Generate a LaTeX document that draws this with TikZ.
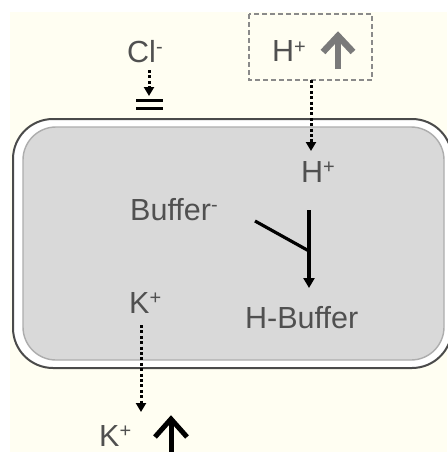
\documentclass[tikz,border=0pt]{standalone}
\usepackage{fontspec}
\setmainfont{Liberation Sans}
\usetikzlibrary{arrows.meta}
\definecolor{cream}{HTML}{FFFEF2}
\definecolor{txt}{HTML}{505050}
\definecolor{cellfill}{HTML}{D9D9D9}
\definecolor{cellline}{HTML}{ADADAD}
\definecolor{memline}{HTML}{4A4A4A}
\definecolor{boxline}{HTML}{8A8A8A}
\definecolor{grayarrow}{HTML}{7A7A7A}
\newcommand\supp[1]{\raisebox{9pt}{\fontsize{20}{20}\selectfont #1}}
\begin{document}
\begin{tikzpicture}[x=1pt,y=-1pt,
  lbl/.style={anchor=base west,inner sep=0pt,text=txt,font=\fontsize{30.5}{31}\selectfont},
  dotarrow/.style={line width=3pt,dash pattern=on 3pt off 2.4pt,-{Triangle[length=9pt,width=10pt]}},
  reac/.style={line width=3.2pt,black},
  uparrow/.style={line cap=butt,line join=miter}
]
\useasboundingbox (0,0) rectangle (447,452);
\fill[white] (0,0) rectangle (447,452);
\fill[cream] (10,12) rectangle (447,452);
% cell
\draw[memline,line width=2pt,fill=white] (13,119) [rounded corners=40pt] -- (452,119) -- (452,368) -- (13,368) -- cycle;
\draw[cellline,line width=1.4pt,fill=cellfill,rounded corners=33pt] (23,127) rectangle (444,360);
% dashed box
\draw[boxline,line width=2pt,dash pattern=on 5pt off 3pt] (249,14) rectangle (372,80);
% labels
\node[lbl] (cl) at (127,63) {Cl\supp{-}};
\node[lbl] (hout) at (272,62) {H\supp{+}};
\node[lbl] (hin) at (301,182) {H\supp{+}};
\node[lbl] (buf) at (130,220) {Buffer\supp{-}};
\node[lbl] (kin) at (129,313) {K\supp{+}};
\node[lbl] (hbuf) at (245,328) {H-Buffer};
\node[lbl] (kout) at (99,446) {K\supp{+}};
% channel symbol
\coordinate (eq) at (149,96);
\draw[line width=3pt] (136,100) -- (163,100) (136,108) -- (163,108);
% coordinates
\coordinate (cls) at (149,70);
\coordinate (boxb) at (311,80);
\coordinate (htip) at (311,151);
\coordinate (ks) at (141,325);
\coordinate (kt) at (141,412);
\coordinate (rstart) at (255,221);
\coordinate (rjoin) at (309,251);
\coordinate (rtop) at (309,210);
\coordinate (rtip) at (309,288);
% dotted arrows
\draw[dotarrow] (cls) -- (eq);
\draw[dotarrow] (boxb) -- (htip);
\draw[dotarrow] (ks) -- (kt);
% reaction
\draw[reac] (rstart) -- (rjoin);
\draw[reac,-{Triangle[length=10pt,width=11pt]}] (rtop) -- (rtip);
% up arrows
\draw[grayarrow,line width=6.5pt,uparrow] (338,69) -- (338,36);
\draw[grayarrow,line width=6.5pt,uparrow] (323,52) -- (338,36) -- (353,52);
\draw[black,line width=5pt,uparrow] (171,452) -- (171,419);
\draw[black,line width=5pt,uparrow] (155,437) -- (171,419) -- (187,437);
\end{tikzpicture}
\end{document}
